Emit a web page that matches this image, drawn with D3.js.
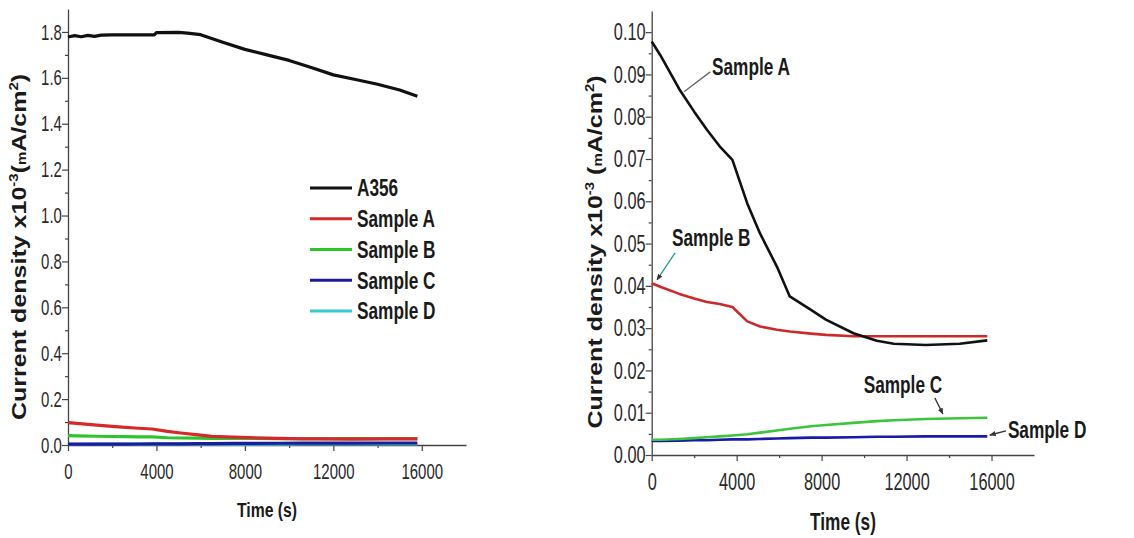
<!DOCTYPE html>
<html>
<head>
<meta charset="utf-8">
<script src="https://cdn.jsdelivr.net/npm/d3@7"></script>
<style>
  html, body { margin: 0; padding: 0; background: #fff; }
  svg { display: block; }
  text { font-family: Arial, "Liberation Sans", Helvetica, sans-serif; }
</style>
</head>
<body>
<svg id="chart" width="1134" height="538"></svg>
<script>
// ---------------- DATA ----------------
const timeA356 = [0, 300, 600, 900, 1200, 1500, 2000, 3000, 3900, 4000, 5000, 5400, 6000, 7000, 8000, 9000, 10000, 11000, 12000, 13000, 14000, 15000, 15800];
const a356 = [1.778, 1.784, 1.779, 1.785, 1.781, 1.786, 1.787, 1.787, 1.787, 1.797, 1.798, 1.795, 1.788, 1.755, 1.724, 1.700, 1.676, 1.645, 1.613, 1.593, 1.572, 1.547, 1.520];

const timeSamples = [0, 400, 1300, 2000, 2600, 3200, 3800, 4500, 5100, 5900, 6500, 7500, 8200, 9500, 10600, 11400, 12900, 14500, 15800];
const sampleA = [0.0978, 0.0946, 0.0865, 0.0812, 0.0769, 0.0730, 0.0698, 0.0595, 0.0524, 0.0445, 0.0375, 0.0343, 0.0320, 0.0288, 0.0270, 0.0263, 0.0260, 0.0263, 0.0271];
const sampleB = [0.0406, 0.0398, 0.0381, 0.0370, 0.0362, 0.0357, 0.0350, 0.0316, 0.0304, 0.0296, 0.0292, 0.0287, 0.0284, 0.0281, 0.0281, 0.0281, 0.0281, 0.0281, 0.0281];
const sampleC = [0.0036, 0.0036, 0.0038, 0.0040, 0.0042, 0.0044, 0.0046, 0.0049, 0.0053, 0.0058, 0.0062, 0.0068, 0.0071, 0.0076, 0.0080, 0.0082, 0.0085, 0.0087, 0.0088];
const sampleD = [0.0033, 0.0033, 0.0034, 0.0035, 0.0035, 0.0036, 0.0037, 0.0037, 0.0038, 0.0039, 0.0040, 0.0041, 0.0041, 0.0042, 0.0043, 0.0043, 0.0044, 0.0044, 0.0044];

const seriesNames = ["A356", "Sample A", "Sample B", "Sample C", "Sample D"];
const leftColors = ["#111111", "#d42a2a", "#2ec42e", "#1c1c9c", "#38c8d0"];
const rightColors = ["#111111", "#cc2a2a", "#3cc43c", "#1a1aa8"]; // Sample A..D in right panel

const xTicks = [0, 4000, 8000, 12000, 16000];
const xMinorTicks = [2000, 6000, 10000, 14000];
const leftYTicks = [0, 0.2, 0.4, 0.6, 0.8, 1.0, 1.2, 1.4, 1.6, 1.8];
const leftYMinor = [0.1, 0.3, 0.5, 0.7, 0.9, 1.1, 1.3, 1.5, 1.7];
const rightYTicks = [0, 0.01, 0.02, 0.03, 0.04, 0.05, 0.06, 0.07, 0.08, 0.09, 0.10];
const rightYMinor = [0.005, 0.015, 0.025, 0.035, 0.045, 0.055, 0.065, 0.075, 0.085, 0.095];

// annotations for right panel: label position and arrow in data units
const annLabels = ["Sample A", "Sample B", "Sample C", "Sample D"];
const annLabelT = [2840, 955, 11830, 16770];
const annLabelV = [0.0918, 0.0513, 0.01656, 0.0059];
const annFromT = [2760, 1100, 13330, 16680];
const annFromV = [0.0906, 0.0478, 0.01350, 0.00570];
const annTipT = [1520, 250, 13710, 15920];
const annTipV = [0.0859, 0.0414, 0.0097, 0.00473];
const annAnchor = ["start", "start", "middle", "start"];
const annColors = ["#666666", "#2a9a8a", "#333333", "#333333"];

// ---------------- DRAW ----------------
const svg = d3.select("#chart");
const SX = 0.75;   // horizontal compression of titles
const TSX = 0.68;  // horizontal compression of tick labels

const defs = svg.append("defs");
defs.append("marker").attr("id", "arrow").attr("viewBox", "0 0 10 10")
  .attr("refX", 9).attr("refY", 5).attr("markerWidth", 5).attr("markerHeight", 5)
  .attr("orient", "auto")
  .append("path").attr("d", "M0,1 L10,5 L0,9 Z").attr("fill", "#333");

function styleAxis(g, fontSize) {
  g.attr("font-size", fontSize).attr("font-family", null);
  g.select(".domain").attr("stroke", "#444").attr("stroke-width", 1.3);
  g.selectAll(".tick line").attr("stroke", "#444").attr("stroke-width", 1.2);
  g.selectAll(".tick text")
    .style("font-size", fontSize + "px")
    .attr("fill", "#2a2a2a")
    .attr("transform", `scale(${TSX},1)`);
}

function drawPanel(opts) {
  const x = d3.scaleLinear().domain([0, 18000]).range(opts.xRange);
  const y = d3.scaleLinear().domain(opts.yDomain).range(opts.yRange);
  const g = svg.append("g");

  // minor ticks
  g.append("g").attr("transform", `translate(0,${opts.yRange[0]})`)
    .call(d3.axisBottom(x).tickValues(xMinorTicks).tickSize(3).tickFormat(""))
    .call(a => { a.select(".domain").remove(); a.selectAll("line").attr("stroke", "#444").attr("stroke-width", 1.2); });
  g.append("g").attr("transform", `translate(${opts.xRange[0]},0)`)
    .call(d3.axisLeft(y).tickValues(opts.yMinor).tickSize(3).tickFormat(""))
    .call(a => { a.select(".domain").remove(); a.selectAll("line").attr("stroke", "#444").attr("stroke-width", 1.2); });

  // major axes
  g.append("g").attr("transform", `translate(0,${opts.yRange[0]})`)
    .call(d3.axisBottom(x).tickValues(xTicks).tickSize(6).tickSizeOuter(0).tickPadding(opts.xPad).tickFormat(d3.format("d")))
    .call(a => styleAxis(a, opts.tickFont));
  g.append("g").attr("transform", `translate(${opts.xRange[0]},0)`)
    .call(d3.axisLeft(y).tickValues(opts.yTicks).tickSize(6).tickSizeOuter(0).tickPadding(3).tickFormat(d3.format(opts.yFmt)))
    .call(a => styleAxis(a, opts.tickFont));

  // x title
  g.append("text")
    .attr("transform", `translate(${opts.xTitlePos[0]},${opts.xTitlePos[1]}) scale(${SX},1)`)
    .attr("text-anchor", "middle").attr("font-weight", "bold").attr("font-size", opts.titleFont)
    .attr("fill", "#1a1a1a").text("Time (s)");

  // y title
  const yt = g.append("text")
    .attr("transform", `translate(${opts.yTitlePos[0]},${opts.yTitlePos[1]}) rotate(-90) scale(1,0.82)`)
    .attr("text-anchor", "middle").attr("font-weight", "bold").attr("font-size", opts.yTitleFont)
    .attr("fill", "#1a1a1a").attr("dy", "0.35em");
  const sup = Math.round(opts.yTitleFont * 0.6);
  yt.append("tspan").text("Current density x10");
  yt.append("tspan").attr("font-size", sup).attr("dy", -opts.yTitleFont * 0.4).text("-3");
  yt.append("tspan").attr("dy", opts.yTitleFont * 0.4).text(opts.spaceBeforeUnit ? " (" : "(");
  yt.append("tspan").attr("font-size", sup).text("m");
  yt.append("tspan").text("A/cm");
  yt.append("tspan").attr("font-size", sup).attr("dy", -opts.yTitleFont * 0.4).text("2");
  yt.append("tspan").attr("dy", opts.yTitleFont * 0.4).text(")");

  return { g, x, y };
}

// ---- Left panel ----
const L = drawPanel({
  xRange: [68, 466], yRange: [445, 9], yDomain: [0, 1.9],
  yTicks: leftYTicks, yMinor: leftYMinor, yFmt: ".1f",
  tickFont: 22, xPad: 12, titleFont: 21, yTitleFont: 25,
  xTitlePos: [267, 517], yTitlePos: [19, 247], spaceBeforeUnit: false
});
const lineL = (vals, times) => d3.line().x((d, i) => L.x(times[i])).y(d => L.y(d))(vals);
const leftSeries = [[a356, timeA356], [sampleA, timeSamples], [sampleB, timeSamples], [sampleC, timeSamples], [sampleD, timeSamples]];
[4, 3, 2, 1, 0].forEach(i => {
  L.g.append("path").attr("d", lineL(leftSeries[i][0], leftSeries[i][1]))
    .attr("fill", "none").attr("stroke", leftColors[i]).attr("stroke-width", 3.2)
    .attr("stroke-linejoin", "round");
});
// legend
const legY = d3.scaleLinear().domain([0, 4]).range([188, 311]);
seriesNames.forEach((name, i) => {
  L.g.append("line").attr("x1", 310).attr("x2", 352).attr("y1", legY(i)).attr("y2", legY(i))
    .attr("stroke", leftColors[i]).attr("stroke-width", 3);
  L.g.append("text").attr("transform", `translate(357,${legY(i)}) scale(${SX},1)`)
    .attr("dy", "0.36em").attr("font-size", 23).attr("font-weight", "bold").attr("fill", "#1a1a1a")
    .text(name);
});

// ---- Right panel ----
const R = drawPanel({
  xRange: [651.7, 1034], yRange: [455, 11], yDomain: [0, 0.105],
  yTicks: rightYTicks, yMinor: rightYMinor, yFmt: ".2f",
  tickFont: 24, xPad: 12, titleFont: 23, yTitleFont: 25,
  xTitlePos: [843, 530], yTitlePos: [595, 252], spaceBeforeUnit: true
});
const lineR = (vals) => d3.line().x((d, i) => R.x(timeSamples[i])).y(d => R.y(d))(vals);
const rightSeries = [sampleA, sampleB, sampleC, sampleD];
[3, 2, 1, 0].forEach(i => {
  R.g.append("path").attr("d", lineR(rightSeries[i]))
    .attr("fill", "none").attr("stroke", rightColors[i]).attr("stroke-width", 2.6)
    .attr("stroke-linejoin", "round");
});
annLabels.forEach((name, i) => {
  R.g.append("line")
    .attr("x1", R.x(annFromT[i])).attr("y1", R.y(annFromV[i]))
    .attr("x2", R.x(annTipT[i])).attr("y2", R.y(annTipV[i]))
    .attr("stroke", annColors[i]).attr("stroke-width", 1.3)
    .attr("marker-end", i === 0 ? null : "url(#arrow)");
  R.g.append("text")
    .attr("transform", `translate(${R.x(annLabelT[i])},${R.y(annLabelV[i])}) scale(${SX},1)`)
    .attr("dy", "0.36em").attr("text-anchor", annAnchor[i])
    .attr("font-size", 23).attr("font-weight", "bold").attr("fill", "#1a1a1a")
    .text(name);
});
</script>
</body>
</html>
